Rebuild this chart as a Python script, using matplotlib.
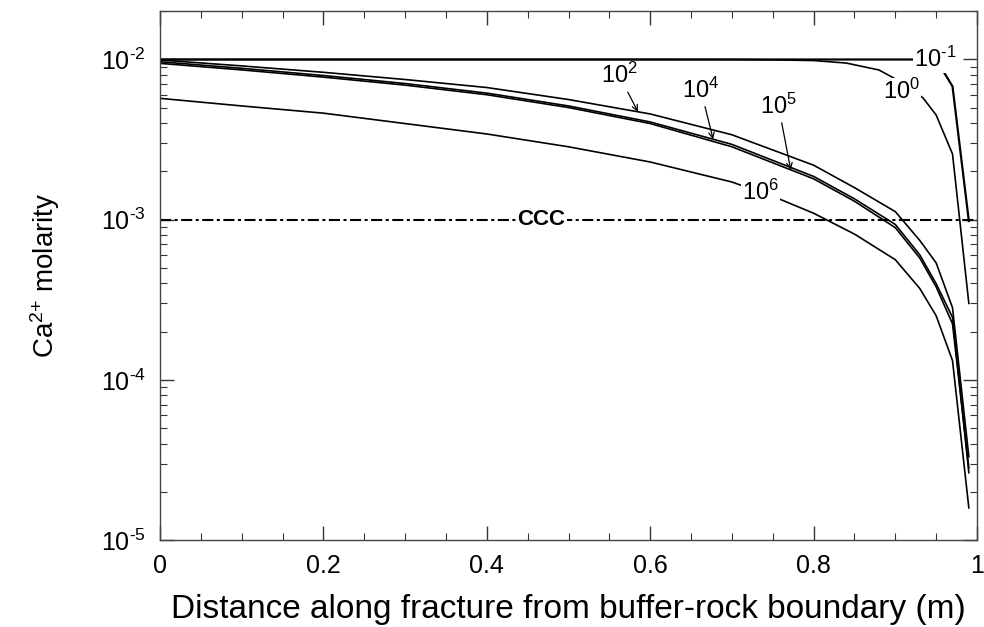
import numpy as np
import matplotlib
matplotlib.use("Agg")
import matplotlib.pyplot as plt
from matplotlib.ticker import FixedLocator, LogLocator, NullFormatter, FixedFormatter

plt.rcParams['font.family'] = ['Liberation Sans', 'DejaVu Sans']
plt.rcParams['mathtext.fontset'] = 'custom'
plt.rcParams['mathtext.rm'] = 'Liberation Sans'
plt.rcParams['mathtext.it'] = 'Liberation Sans'
plt.rcParams['lines.scale_dashes'] = False

# distance along fracture (m) and log10 drop below 1e-2 M for each curve
x_main = [0, 0.1, 0.2, 0.3, 0.4, 0.5, 0.6, 0.7, 0.8, 0.85, 0.9, 0.93, 0.95, 0.97, 0.99]
drop_1e2 = [0.003, 0.04, 0.08, 0.125, 0.175, 0.25, 0.34, 0.47, 0.66, 0.80, 0.95, 1.13, 1.27, 1.55, 2.48]
drop_1e4 = [0.014, 0.055, 0.10, 0.15, 0.21, 0.29, 0.39, 0.53, 0.73, 0.87, 1.03, 1.22, 1.40, 1.61, 2.58]
drop_1e5 = [0.024, 0.065, 0.11, 0.16, 0.22, 0.30, 0.40, 0.545, 0.745, 0.885, 1.05, 1.24, 1.42, 1.65, 2.55]

x_1e6 = [0, 0.1, 0.2, 0.3, 0.4, 0.5, 0.6, 0.7, 0.76, 0.8, 0.85, 0.9, 0.93, 0.95, 0.97, 0.99]
drop_1e6 = [0.2425, 0.29, 0.335, 0.40, 0.465, 0.545, 0.64, 0.765, 0.875, 0.96, 1.09, 1.25, 1.43, 1.60, 1.88, 2.80]

x_1e0 = [0, 0.6, 0.7, 0.75, 0.8, 0.84, 0.88, 0.91, 0.934, 0.95, 0.97, 0.99]
ca_1e0 = [1.0e-2, 1.0e-2, 0.999e-2, 0.995e-2, 0.985e-2, 0.95e-2, 0.86e-2, 0.71e-2, 0.575e-2, 0.45e-2, 0.257e-2, 3.0e-4]

x_1e_1 = [0, 0.9, 0.95, 0.97, 0.99]
ca_1e_1 = [1.0e-2, 1.0e-2, 1.0e-2, 0.68e-2, 9.8e-4]

ccc = 1e-3

ca_1e2 = 10 ** (-2 - np.array(drop_1e2))
ca_1e4 = 10 ** (-2 - np.array(drop_1e4))
ca_1e5 = 10 ** (-2 - np.array(drop_1e5))
ca_1e6 = 10 ** (-2 - np.array(drop_1e6))

fig = plt.figure(figsize=(9.84, 6.27), dpi=100)
ax = fig.add_axes([0.1626, 0.1388, 0.8303, 0.8432])
ax.set_yscale('log')
ax.set_xlim(0, 1)
ax.set_ylim(1e-5, 2e-2)

lw = 1.2
ax.plot(x_1e_1, ca_1e_1, color='black', lw=1.6)
ax.plot(x_1e0, ca_1e0, color='black', lw=lw)
ax.plot(x_main, ca_1e2, color='black', lw=lw)
ax.plot(x_main, ca_1e4, color='black', lw=lw)
ax.plot(x_main, ca_1e5, color='black', lw=lw)
ax.plot(x_1e6, ca_1e6, color='black', lw=lw)

ax.plot([0, 1], [ccc, ccc], color='black', lw=1.5, linestyle=(0, (8, 2.5, 2.2, 2.5)))
ax.text(0.467, ccc, 'CCC', fontsize=16, fontweight='bold', ha='center', va='center',
        bbox=dict(facecolor='white', edgecolor='none', pad=1.0))

def on_curve(xs, ys, xq):
    return 10 ** np.interp(xq, xs, np.log10(ys))

def pow10(e):
    return r'$10^{\text{%s}}$' % e

# inline labels sitting on their curves
inline = [(pow10('-1'), 0.949, on_curve(x_1e_1, ca_1e_1, 0.949)),
          (pow10('0'), 0.908, 6.3e-3),
          (pow10('6'), 0.735, on_curve(x_1e6, ca_1e6, 0.735))]
for lab, tx, ty in inline:
    ax.text(tx, ty, lab, fontsize=17, ha='center', va='center',
            bbox=dict(facecolor='white', edgecolor='none', pad=0.5))

# labels with leader arrows for the tightly bunched curves
arrowed = [(pow10('2'), 0.562, 10 ** -2.10, 0.585, x_main, ca_1e2),
           (pow10('4'), 0.662, 10 ** -2.19, 0.677, x_main, ca_1e4),
           (pow10('5'), 0.757, 10 ** -2.29, 0.772, x_main, ca_1e5)]
for lab, tx, ty, xq, xs, ys in arrowed:
    ax.annotate(lab, xy=(xq, on_curve(xs, ys, xq)), xytext=(tx, ty),
                fontsize=17, ha='center', va='center',
                arrowprops=dict(arrowstyle='->', lw=0.9, color='black',
                                shrinkA=1, shrinkB=0, mutation_scale=10))

ax.xaxis.set_major_locator(FixedLocator([0, 0.2, 0.4, 0.6, 0.8, 1.0]))
ax.xaxis.set_minor_locator(FixedLocator(np.arange(0.05, 1.0, 0.05)))
ax.xaxis.set_major_formatter(FixedFormatter(['0', '0.2', '0.4', '0.6', '0.8', '1']))
ax.yaxis.set_major_locator(FixedLocator([1e-5, 1e-4, 1e-3, 1e-2]))
ax.yaxis.set_minor_locator(LogLocator(base=10, subs=np.arange(2, 10)))
ax.yaxis.set_minor_formatter(NullFormatter())
ax.yaxis.set_major_formatter(FixedFormatter([pow10('-5'), pow10('-4'), pow10('-3'), pow10('-2')]))

ax.tick_params(which='both', direction='in', top=True, right=True, color='#333333')
ax.tick_params(which='major', length=10, width=1.0, labelsize=18, pad=10)
ax.tick_params(which='minor', length=5, width=0.8)
for s in ax.spines.values():
    s.set_color('#444444')
    s.set_linewidth(1.0)

ax.set_ylabel(r'Ca$^{\text{2+}}$ molarity', fontsize=20, labelpad=28)
fig.text(0.1626 + 0.8303 / 2, 0.0144, 'Distance along fracture from buffer-rock boundary (m)',
         fontsize=24, ha='center', va='baseline')

fig.savefig('out.png', dpi=100)
